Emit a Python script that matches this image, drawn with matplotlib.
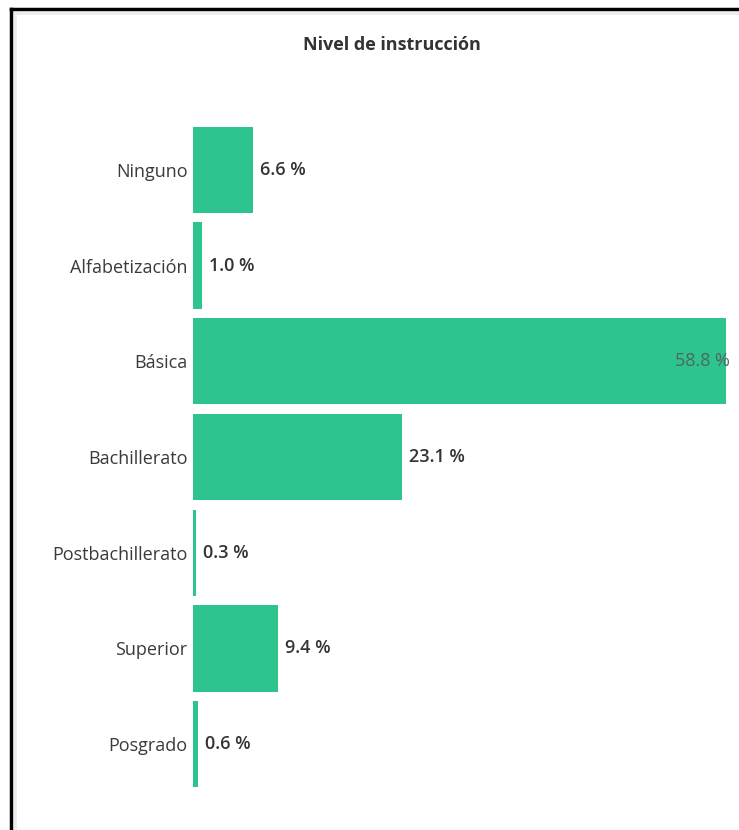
import matplotlib.pyplot as plt
from matplotlib.lines import Line2D

categories = ['Ninguno', 'Alfabetización', 'Básica', 'Bachillerato',
              'Postbachillerato', 'Superior', 'Posgrado']
values = [6.6, 1.0, 58.8, 23.1, 0.3, 9.4, 0.6]
value_labels = ['6.6 %', '1.0 %', '58.8 %', '23.1 %', '0.3 %', '9.4 %', '0.6 %']

plt.rcParams['font.family'] = ['Open Sans', 'DejaVu Sans']

fig = plt.figure(figsize=(7.39, 8.30), dpi=100)
fig.patch.set_facecolor('white')

W, H = 739, 830
ax = fig.add_axes([193 / W, 1 - 792 / H, (726 - 193) / W, (792 - 122) / H])

bar_color = '#2ec48e'
ypos = list(range(len(categories)))
ax.barh(ypos, values, height=0.9, color=bar_color, zorder=2)

ax.set_xlim(0, 58.8)
ax.set_ylim(6.5, -0.5)
ax.set_xticks([])
ax.set_yticks(ypos)
ax.set_yticklabels(categories, fontsize=13, color='#3a3a3a')
ax.tick_params(axis='y', length=0, pad=4)
for s in ax.spines.values():
    s.set_visible(False)

for y, v, lab in zip(ypos, values, value_labels):
    if v > 50:
        ax.annotate(lab, (v, y), xytext=(-37, 0), textcoords='offset points',
                    va='center', ha='left', fontsize=13, color='#4f6660',
                    annotation_clip=False)
    else:
        ax.annotate(lab, (v, y), xytext=(5, 0), textcoords='offset points',
                    va='center', ha='left', fontsize=13, color='#333333',
                    fontweight='semibold')

fig.text(392 / W, 1 - 45 / H, 'Nivel de instrucción', ha='center', va='center',
         fontsize=13, fontweight='bold', color='#333333')

# screenshot frame
fig.add_artist(Line2D([11 / W, 11 / W], [0, 1 - 9 / H], transform=fig.transFigure,
                      color='black', linewidth=2.5))
fig.add_artist(Line2D([11 / W, 1], [1 - 9 / H, 1 - 9 / H], transform=fig.transFigure,
                      color='black', linewidth=2.5))
fig.add_artist(Line2D([15 / W, 15 / W], [0, 1 - 13 / H], transform=fig.transFigure,
                      color='#ececec', linewidth=2))
fig.add_artist(Line2D([15 / W, 1], [1 - 13 / H, 1 - 13 / H], transform=fig.transFigure,
                      color='#ececec', linewidth=2))

fig.savefig('out.png', dpi=100)
